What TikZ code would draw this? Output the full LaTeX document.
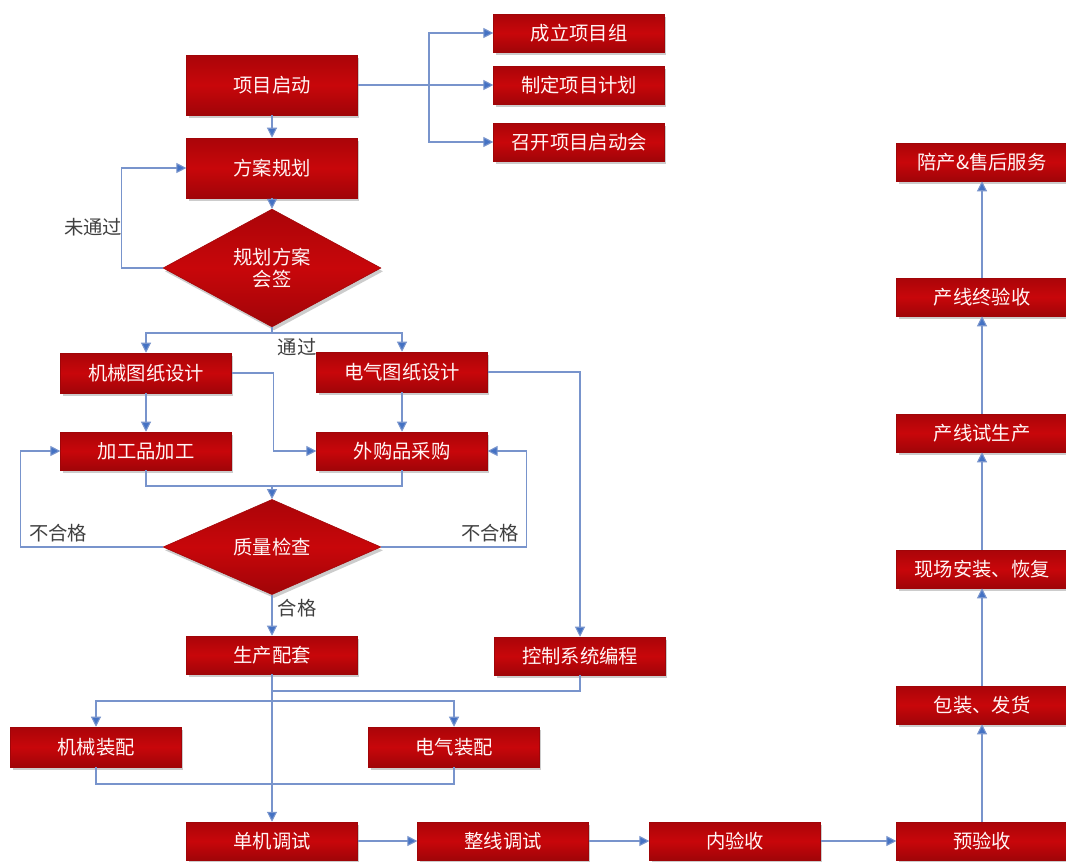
\documentclass[tikz,border=0pt]{standalone}
\usepackage{fontspec}
\setmainfont{Noto Sans CJK SC}
\usetikzlibrary{shapes.geometric,arrows.meta,shadows}
\definecolor{boxred}{RGB}{200,6,10}
\definecolor{linkblue}{RGB}{120,148,204}
\definecolor{tipblue}{RGB}{68,114,196}
\definecolor{taggray}{RGB}{64,64,64}
\begin{document}
\begin{tikzpicture}[x=0.75pt,y=-0.75pt,
	every node/.style={font=\fontsize{14.5}{17}\selectfont},
	box/.style={rectangle,draw=boxred!80!black,line width=0.4pt,
		top color=boxred!85!black,bottom color=boxred!80!black,middle color=boxred,
		text=white!96!red,minimum width=128pt,minimum height=28.5pt,inner sep=0pt,
		drop shadow={shadow xshift=1.5pt,shadow yshift=-2.5pt,opacity=0.4}},
	bigbox/.style={box,minimum height=45pt},
	check/.style={box,diamond,align=center,minimum width=163.5pt,minimum height=67pt},
	link/.style={draw=linkblue,line width=0.8pt},
	arr/.style={link,-{Triangle[length=7.5pt,width=7.5pt,fill=tipblue]}},
	tag/.style={text=taggray}]
	\useasboundingbox (0,0) rectangle (1066,861);
	
	% start and planning
	\node[bigbox] (start) at (272,85) {项目启动};
	\node[box] (zu) at (579,33) {成立项目组};
	\node[box] (jh) at (579,85) {制定项目计划};
	\node[box] (hui) at (579,142) {召开项目启动会};
	\node[bigbox] (fa) at (272,168) {方案规划};
	\node[check] (hq) at (272,268) {规划方案\\会签};
	
	% design and purchase
	\node[box,minimum height=30pt] (jx) at (146,373) {机械图纸设计};
	\node[box,minimum height=30pt] (dq) at (402,372) {电气图纸设计};
	\node[box] (jg) at (146,451) {加工品加工};
	\node[box] (wg) at (402,451) {外购品采购};
	\node[check] (zl) at (272,547) {质量检查};
	
	% assembly
	\node[box] (sc) at (272,655) {生产配套};
	\node[box] (kz) at (580,656) {控制系统编程};
	\node[box,minimum height=30pt] (jz) at (96,747) {机械装配};
	\node[box,minimum height=30pt] (dz) at (454,747) {电气装配};
	
	% debugging and delivery
	\node[box] (dj) at (272,841) {单机调试};
	\node[box] (zx) at (503,841) {整线调试};
	\node[box] (ny) at (735,841) {内验收};
	\node[box] (yy) at (982,841) {预验收};
	\node[box] (bz) at (982,705) {包装、发货};
	\node[box] (xc) at (982,569) {现场安装、恢复};
	\node[box] (sy) at (982,433) {产线试生产};
	\node[box] (zy) at (982,297) {产线终验收};
	\node[box] (pc) at (982,162) {陪产\&售后服务};
	
	\coordinate (s1) at (429,85);
	\coordinate (b1) at (272,333);
	\coordinate (m1) at (272,486);
	\coordinate (m2) at (272,691);
	\coordinate (m3) at (272,701);
	\coordinate (m4) at (272,784);
	
	\draw[arr] (start.east) -- (jh.west);
	\draw[arr] (s1) |- (zu.west);
	\draw[arr] (s1) |- (hui.west);
	\draw[arr] (start.south) -- (fa.north);
	\draw[arr] (fa.south) -- (hq.north);
	\draw[arr] (hq.west) -- ++(-41,0) |- (fa.west);
	\draw[link] (hq.south) -- (b1);
	\draw[arr] (b1) -| (jx.north);
	\draw[arr] (b1) -| (dq.north);
	\draw[arr] (jx.south) -- (jg.north);
	\draw[arr] (dq.south) -- (wg.north);
	\draw[arr] (jx.east) -- ++(42,0) |- (wg.west);
	\draw[arr] (dq.east) -| (kz.north);
	\draw[link] (jg.south) |- (m1) -| (wg.south);
	\draw[arr] (m1) -- (zl.north);
	\draw[arr] (zl.west) -- ++(-142,0) |- (jg.west);
	\draw[arr] (zl.east) -- ++(145,0) |- (wg.east);
	\draw[arr] (zl.south) -- (sc.north);
	\draw[arr] (sc.south) -- (dj.north);
	\draw[link] (kz.south) |- (m2);
	\draw[arr] (m3) -| (jz.north);
	\draw[arr] (m3) -| (dz.north);
	\draw[link] (jz.south) |- (m4) -| (dz.south);
	\draw[arr] (dj.east) -- (zx.west);
	\draw[arr] (zx.east) -- (ny.west);
	\draw[arr] (ny.east) -- (yy.west);
	\draw[arr] (yy.north) -- (bz.south);
	\draw[arr] (bz.north) -- (xc.south);
	\draw[arr] (xc.north) -- (sy.south);
	\draw[arr] (sy.north) -- (zy.south);
	\draw[arr] (zy.north) -- (pc.south);
	
	\node[tag] (wtg) at (93,227) {未通过};
	\node[tag] (tg) at (297,347) {通过};
	\node[tag] (bhg1) at (58,533) {不合格};
	\node[tag] (bhg2) at (490,533) {不合格};
	\node[tag] (hg) at (297,608) {合格};
\end{tikzpicture}
\end{document}
